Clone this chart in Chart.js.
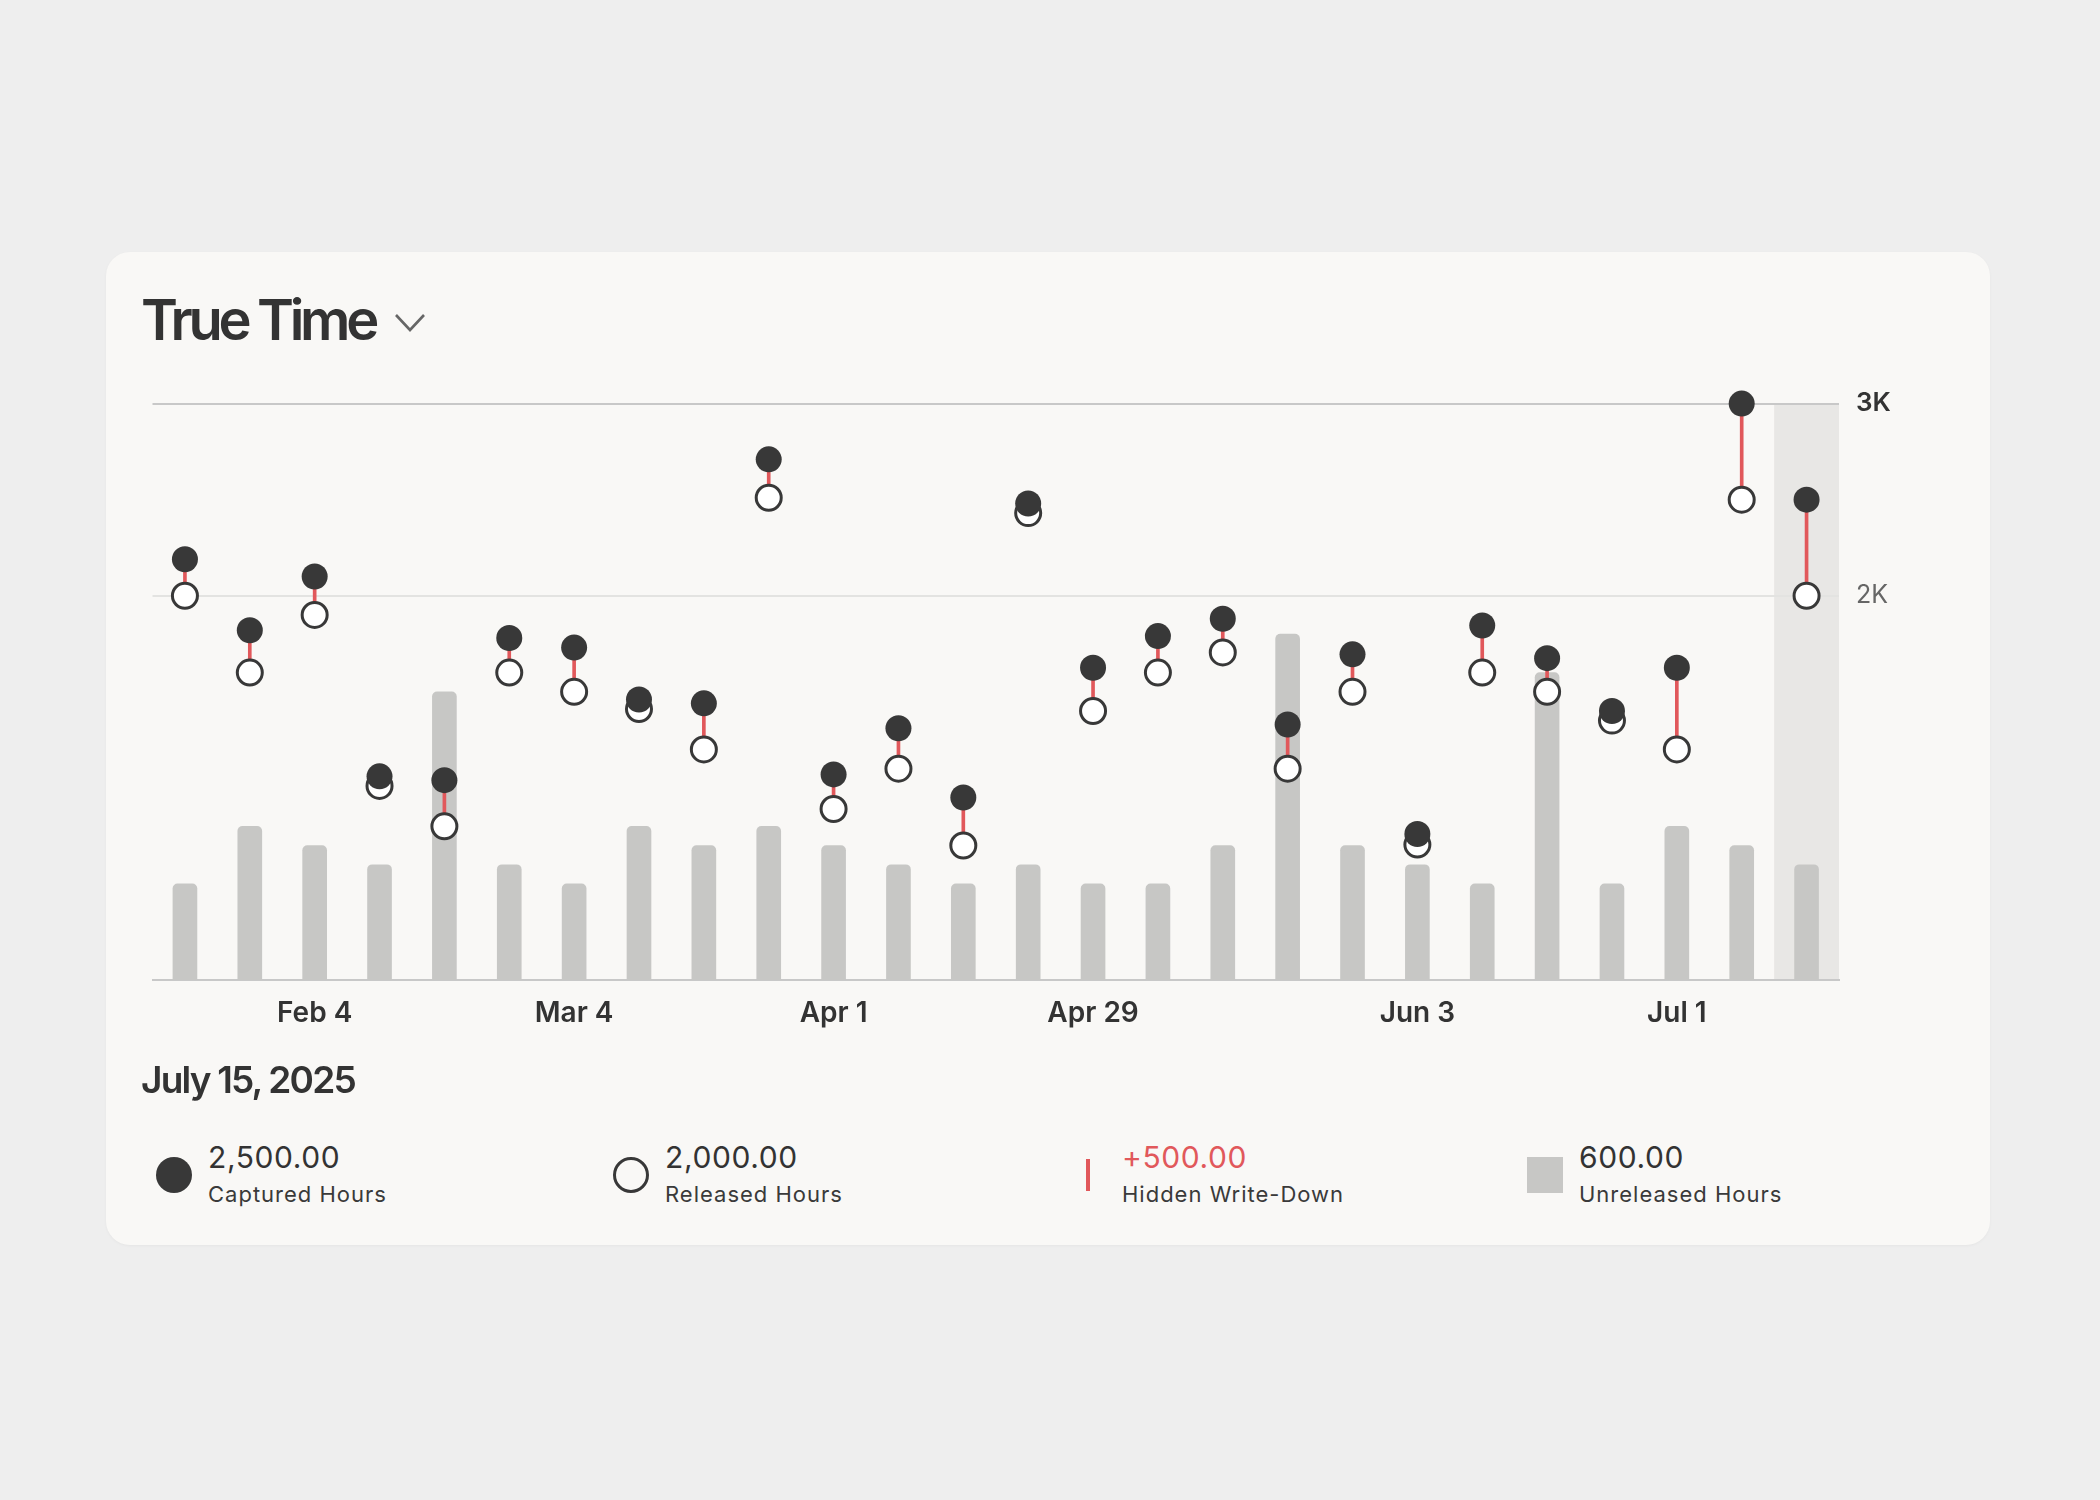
<!DOCTYPE html>
<html>
<head>
<meta charset="utf-8">
<script src="https://cdn.jsdelivr.net/npm/chart.js@4.4.1/dist/chart.umd.min.js"></script>
<style>
  html, body { margin: 0; padding: 0; }
  body { width: 2100px; height: 1500px; background: #eeeeee; position: relative; font-family: Inter, "Noto Sans", sans-serif; color: #333; overflow: hidden; }
  .card { position: absolute; left: 106px; top: 252px; width: 1884px; height: 993px; background: #f9f8f6; border-radius: 24px; box-shadow: 0 1px 3px rgba(0,0,0,0.04); }
  .abs { position: absolute; line-height: 1; white-space: nowrap; }
  #title { left: 141px; top: 292px; font-size: 56px; font-weight: 600; letter-spacing: -4.3px; color: #333; }
  #chev { position: absolute; left: 393px; top: 311px; }
  #date { left: 141px; top: 1061px; font-size: 37px; font-weight: 600; letter-spacing: -1.8px; color: #333; }
  #wrap { position: absolute; left: 137px; top: 371px; width: 1803px; height: 689px; }
  .val { font-size: 30px; font-weight: 400; letter-spacing: 0.6px; color: #333; }
  .lab { font-size: 22px; font-weight: 400; letter-spacing: 1px; color: #3a3a3a; }
  .icon { position: absolute; }
</style>
</head>
<body>
<div class="card"></div>
<div id="title" class="abs">True Time</div>
<svg id="chev" width="36" height="24"><polyline points="3,4 17,19 31,4" fill="none" stroke="#666" stroke-width="2.6"/></svg>
<div id="wrap"><canvas id="myChart"></canvas></div>
<div id="date" class="abs">July 15, 2025</div>
<div id="legend"></div>

<script>
const weeks = ['Jan 21', 'Jan 28', 'Feb 4', 'Feb 11', 'Feb 18', 'Feb 25', 'Mar 4', 'Mar 11', 'Mar 18', 'Mar 25',
  'Apr 1', 'Apr 8', 'Apr 15', 'Apr 22', 'Apr 29', 'May 6', 'May 13', 'May 20', 'May 27', 'Jun 3',
  'Jun 10', 'Jun 17', 'Jun 24', 'Jul 1', 'Jul 8', 'Jul 15']
const shownTicks = ['Feb 4', 'Mar 4', 'Apr 1', 'Apr 29', 'Jun 3', 'Jul 1']

const captured = [2190, 1820, 2100, 1060, 1040, 1780, 1730, 1460, 1440, 2710, 1070, 1310, 950,
  2480, 1625, 1790, 1880, 1330, 1695, 760, 1845, 1675, 1400, 1625, 3000, 2500]
const released = [2000, 1600, 1900, 1010, 800, 1600, 1500, 1410, 1200, 2510, 890, 1100, 700,
  2430, 1400, 1600, 1705, 1100, 1500, 705, 1600, 1500, 1350, 1200, 2500, 2000]
const unreleased = [500, 800, 700, 600, 1500, 600, 500, 800, 700, 800, 700, 600, 500,
  600, 500, 500, 700, 1800, 700, 600, 500, 1600, 500, 800, 700, 600]

const yTicks = [2000, 3000]

const dark = '#383838'
const red = '#e1585b'
const grey = '#c7c7c5'

// legend for the selected week (last one)
const sel = weeks.length - 1
const fmt = v => v.toLocaleString('en-US', {minimumFractionDigits: 2, maximumFractionDigits: 2})
const legendItems = [
  {value: fmt(captured[sel]), label: 'Captured Hours', icon: 'dot'},
  {value: fmt(released[sel]), label: 'Released Hours', icon: 'ring'},
  {value: '+' + fmt(captured[sel] - released[sel]), label: 'Hidden Write-Down', icon: 'line', color: red},
  {value: fmt(unreleased[sel]), label: 'Unreleased Hours', icon: 'square'}
]

const legend = document.querySelector('#legend')
legendItems.forEach((item, i) => {
  const left = 156 + i * 457
  let icon = ''
  if (item.icon === 'dot') icon = `<div class="icon" style="left:${left}px;top:1157px;width:36px;height:36px;border-radius:50%;background:${dark}"></div>`
  if (item.icon === 'ring') icon = `<div class="icon" style="left:${left}px;top:1157px;width:30px;height:30px;border-radius:50%;border:3px solid ${dark}"></div>`
  if (item.icon === 'line') icon = `<div class="icon" style="left:${left + 16}px;top:1159px;width:4px;height:32px;background:${red}"></div>`
  if (item.icon === 'square') icon = `<div class="icon" style="left:${left}px;top:1157px;width:36px;height:36px;background:${grey}"></div>`
  legend.innerHTML += icon +
    `<div class="abs val" style="left:${left + 52}px;top:1142px;${item.color ? 'color:' + item.color : ''}">${item.value}</div>` +
    `<div class="abs lab" style="left:${left + 52}px;top:1183px">${item.label}</div>`
})

// shaded column behind the selected week
const highlight = {
  id: 'highlight',
  beforeDraw(chart) {
    const {ctx, chartArea, scales} = chart
    const x = scales.x.getPixelForValue(sel)
    const half = (scales.x.getPixelForValue(1) - scales.x.getPixelForValue(0)) / 2
    ctx.save()
    ctx.fillStyle = '#e8e7e5'
    ctx.fillRect(x - half, chartArea.top, half * 2, chartArea.bottom - chartArea.top)
    ctx.restore()
  }
}

const isTop = c => c.tick && c.tick.value === 3000

const ctx = document.querySelector('#myChart')

const data = {
  labels: weeks,
  datasets: [
    {
      type: 'line',
      label: 'Captured Hours',
      data: captured,
      showLine: false,
      pointRadius: 13,
      pointBorderWidth: 0,
      pointBackgroundColor: dark,
      clip: false,
      order: 1
    },
    {
      type: 'line',
      label: 'Released Hours',
      data: released,
      showLine: false,
      pointRadius: 12.5,
      pointBorderWidth: 3,
      pointBorderColor: dark,
      pointBackgroundColor: '#ffffff',
      clip: false,
      order: 2
    },
    {
      type: 'bar',
      label: 'Hidden Write-Down',
      data: released.map((r, i) => [r, captured[i]]),
      backgroundColor: red,
      barThickness: 3,
      borderSkipped: false,
      grouped: false,
      order: 3
    },
    {
      type: 'bar',
      label: 'Unreleased Hours',
      data: unreleased,
      backgroundColor: grey,
      barThickness: 24,
      borderRadius: 5,
      grouped: false,
      order: 4
    }
  ]
}

const options = {
  responsive: true,
  maintainAspectRatio: false,
  animation: false,
  events: [],
  layout: {padding: {left: 10, top: 14, right: 0, bottom: 0}},
  plugins: {
    legend: {display: false},
    tooltip: {enabled: false}
  },
  scales: {
    x: {
      offset: true,
      grid: {display: false, drawTicks: false},
      border: {display: true, color: '#c8c8c8', width: 2},
      afterFit: scale => { scale.height = 80 },
      ticks: {
        autoSkip: false,
        maxRotation: 0,
        padding: 17,
        color: '#333',
        font: {family: 'Inter', size: 28, weight: '600'},
        callback: (v, i) => shownTicks.includes(weeks[i]) ? weeks[i] : ''
      }
    },
    y: {
      position: 'right',
      min: 0,
      max: 3000,
      afterBuildTicks: scale => { scale.ticks = yTicks.map(v => ({value: v})) },
      afterFit: scale => { scale.width = 101 },
      grid: {
        drawTicks: false,
        lineWidth: 2,
        color: c => isTop(c) ? '#c8c8c8' : '#e3e3e1'
      },
      border: {display: false},
      ticks: {
        padding: 17,
        color: c => isTop(c) ? '#333' : '#666',
        font: c => isTop(c)
          ? {family: 'Inter', size: 26, weight: '600'}
          : {family: 'Inter', size: 25, weight: '400'},
        callback: v => (v / 1000) + 'K'
      }
    }
  }
}

const config = {
  type: 'bar',
  data: data,
  options: options,
  plugins: [highlight]
}

const chart = new Chart(ctx, config)
</script>
</body>
</html>
